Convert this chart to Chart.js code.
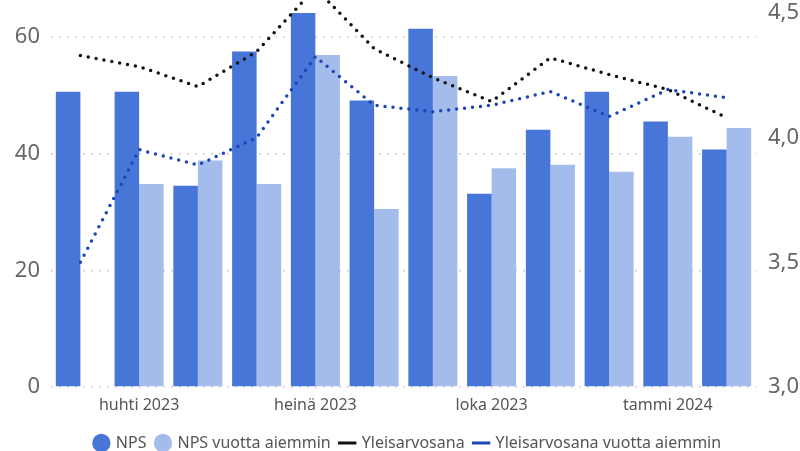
<!DOCTYPE html>
<html>
<head>
<meta charset="utf-8">
<script src="https://cdn.jsdelivr.net/npm/chart.js@4/dist/chart.umd.min.js"></script>
<style>
html,body{margin:0;padding:0;background:#fff;}
#wrap{width:800px;height:451px;position:relative;}
</style>
</head>
<body>
<div id="wrap"><canvas id="c" width="800" height="451"></canvas></div>
<script>
const categories = ['maalis 2023','huhti 2023','touko 2023','kesä 2023','heinä 2023','elo 2023','syys 2023','loka 2023','marras 2023','joulu 2023','tammi 2024','helmi 2024'];
const npsValues = [50.6, 50.6, 34.5, 57.5, 64.2, 49.1, 61.4, 33.1, 44.1, 50.6, 45.5, 40.7];
const npsPrevYear = [null, 34.8, 38.8, 34.8, 56.9, 30.5, 53.3, 37.5, 38.1, 36.9, 42.9, 44.4];
const overallGrade = [4.33, 4.285, 4.205, 4.345, 4.6, 4.357, 4.24, 4.145, 4.32, 4.253, 4.193, 4.08];
const overallGradePrevYear = [3.5, 3.952, 3.89, 4.0, 4.325, 4.13, 4.104, 4.13, 4.185, 4.085, 4.193, 4.16];
const leftTicks = [0, 20, 40, 60];
const rightTicks = [3.0, 3.5, 4.0, 4.5];

const FONT = "'Noto Sans', 'Open Sans', Arial, sans-serif";
const DARK = '#4876d8';
const LIGHT = '#a4bcec';

const legendShift = {
  id: 'legendShift',
  afterLayout(chart) {
    if (chart.legend) { chart.legend.left += 8; chart.legend.right += 8; }
  }
};

new Chart(document.getElementById('c'), {
  plugins: [legendShift],
  data: {
    labels: categories,
    datasets: [
      { type: 'bar', label: 'NPS', data: npsValues, backgroundColor: DARK, yAxisID: 'y', order: 2, pointStyle: 'circle',
        barPercentage: 1.0, categoryPercentage: 0.835 },
      { type: 'bar', label: 'NPS vuotta aiemmin', data: npsPrevYear, backgroundColor: LIGHT, yAxisID: 'y', order: 2, pointStyle: 'circle',
        barPercentage: 1.0, categoryPercentage: 0.835 },
      { type: 'line', label: 'Yleisarvosana', data: overallGrade, borderColor: '#111111', backgroundColor: '#111111',
        borderWidth: 3.5, borderDash: [0, 8], borderCapStyle: 'round', pointRadius: 0, pointStyle: 'line',
        tension: 0, yAxisID: 'y1', order: 0, clip: false },
      { type: 'line', label: 'Yleisarvosana vuotta aiemmin', data: overallGradePrevYear, borderColor: '#1c46b4', backgroundColor: '#1c46b4',
        borderWidth: 3.5, borderDash: [0, 8], borderCapStyle: 'round', pointRadius: 0, pointStyle: 'line',
        tension: 0, yAxisID: 'y1', order: 1, clip: false }
    ]
  },
  options: {
    responsive: false,
    animation: false,
    layout: { padding: { top: 13, left: 0, right: 0, bottom: -10 } },
    plugins: {
      tooltip: { enabled: false },
      legend: {
        position: 'bottom',
        labels: {
          usePointStyle: true,
          boxWidth: 13, boxHeight: 13,
          padding: 10,
          color: '#555',
          font: { family: FONT, size: 16 },
          sort: (a, b) => a.datasetIndex - b.datasetIndex,
          generateLabels: (chart) => {
            const items = Chart.defaults.plugins.legend.labels.generateLabels(chart);
            items.forEach(it => {
              const ds = chart.data.datasets[it.datasetIndex];
              if (ds.type === 'line') { it.lineWidth = 3; it.lineDash = []; it.strokeStyle = ds.borderColor; }
              else { it.lineWidth = 0; }
            });
            return items;
          }
        }
      }
    },
    scales: {
      x: {
        grid: { display: false, drawTicks: false },
        border: { display: false },
        ticks: {
          autoSkip: false, maxRotation: 0, padding: 9, color: '#555',
          font: { family: FONT, size: 16 },
          callback: function(v, i) { return i % 3 === 1 ? categories[i] : ''; }
        },
        afterFit: (s) => { s.height = 38; }
      },
      y: {
        position: 'left', min: 0, max: 64.1,
        grid: { color: '#cfcfcf', lineWidth: 1.5, drawTicks: false },
        border: { display: false, dash: [2, 6] },
        ticks: { stepSize: 20, padding: 11, color: '#666', font: { family: FONT, size: 22 } },
        afterBuildTicks: (s) => { s.ticks = leftTicks.map(v => ({ value: v })); },
        afterFit: (s) => { s.width = 51; s.paddingTop = 0; s.paddingBottom = 0; }
      },
      y1: {
        position: 'right', min: 3.0, max: 4.5,
        grid: { display: false, drawTicks: false },
        border: { display: false },
        ticks: { stepSize: 0.5, padding: 12, color: '#666', font: { family: FONT, size: 22 },
          callback: (v) => v.toFixed(1).replace('.', ',') },
        afterBuildTicks: (s) => { s.ticks = rightTicks.map(v => ({ value: v })); },
        afterFit: (s) => { s.width = 44; s.paddingTop = 0; s.paddingBottom = 0; }
      }
    }
  }
});
</script>
</body>
</html>
